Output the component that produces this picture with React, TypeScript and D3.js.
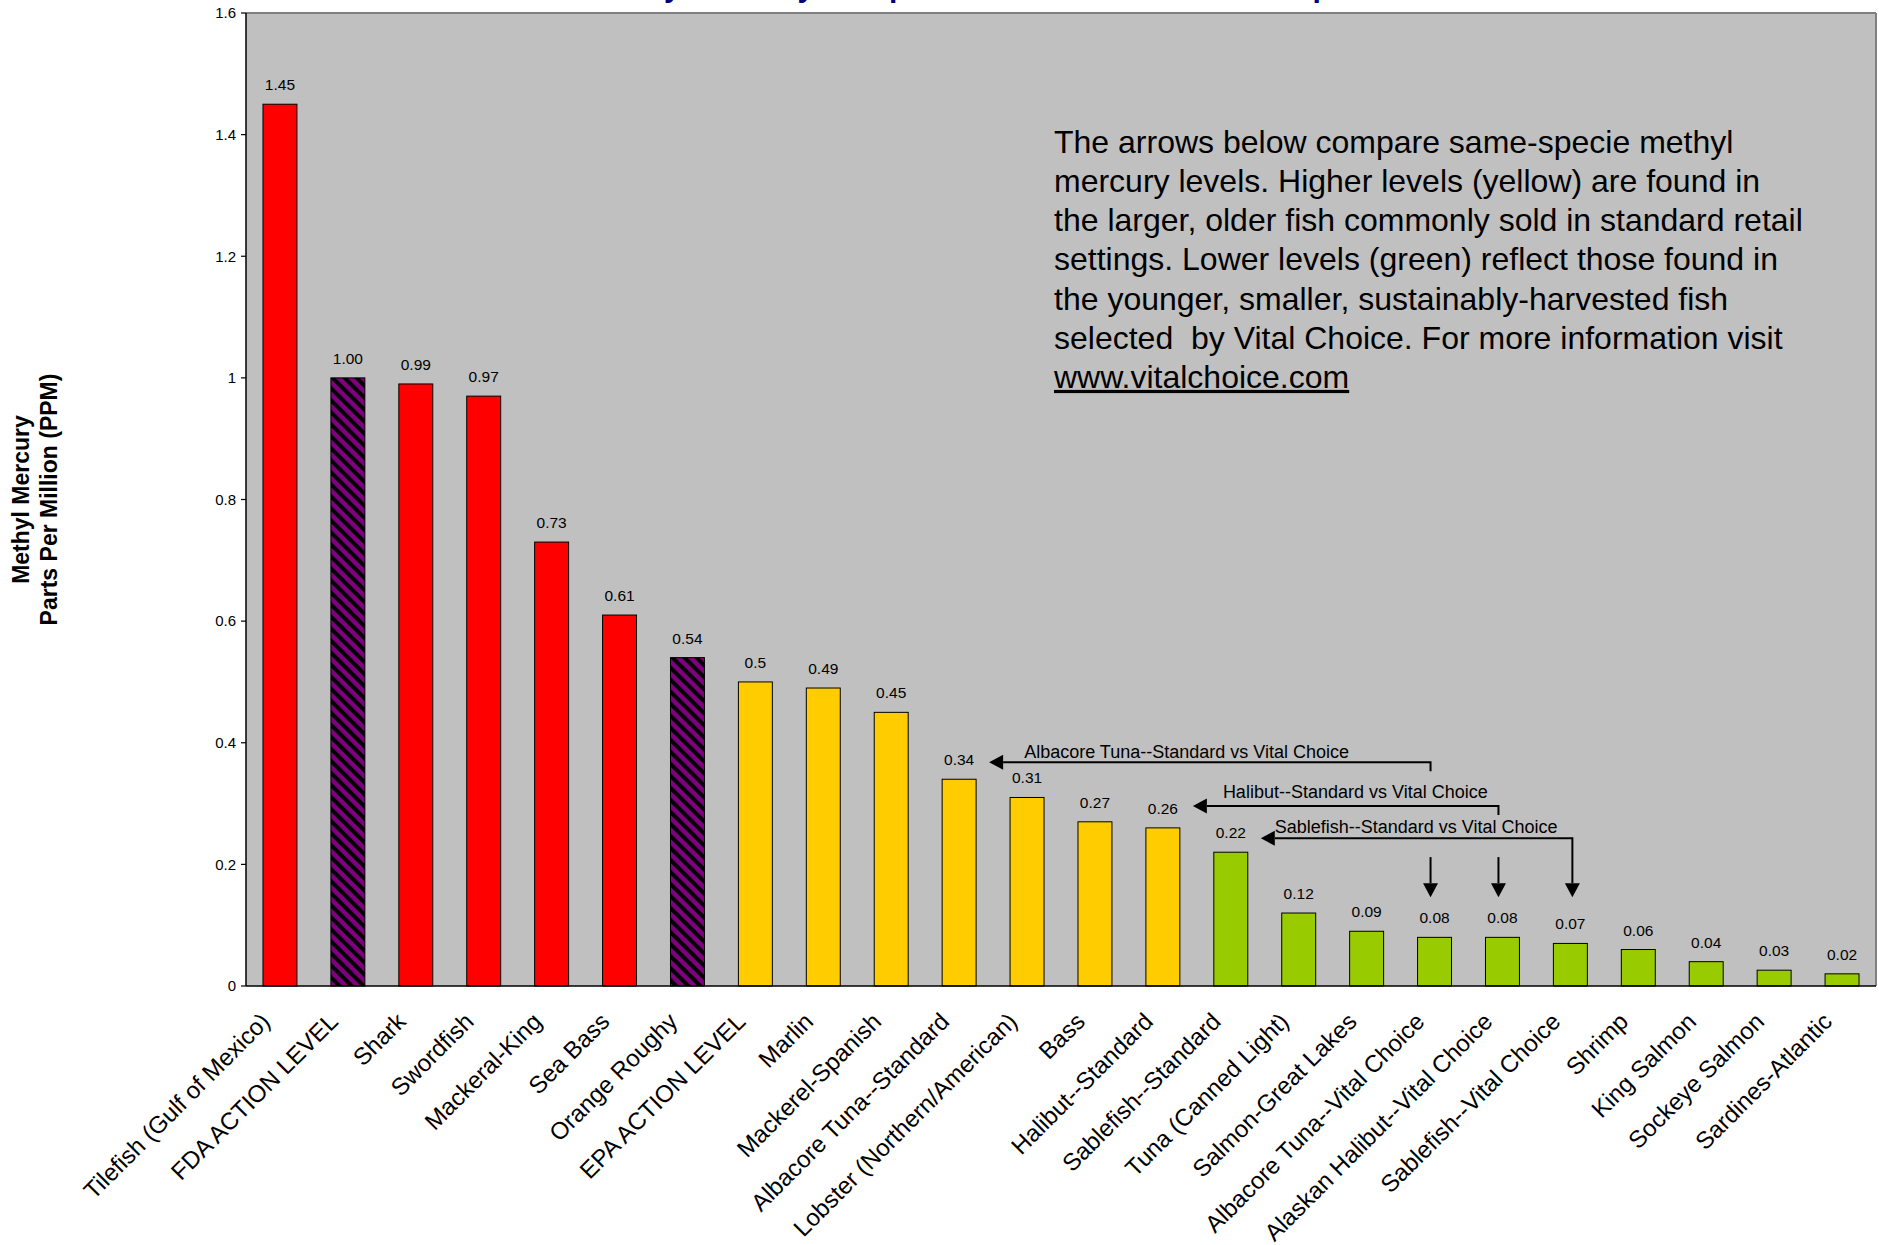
import React from 'react';
import * as d3 from 'd3';

// ---------- data ----------
const categories = [
  'Tilefish (Gulf of Mexico)',
  'FDA ACTION LEVEL',
  'Shark',
  'Swordfish',
  'Mackeral-King',
  'Sea Bass',
  'Orange Roughy',
  'EPA ACTION LEVEL',
  'Marlin',
  'Mackerel-Spanish',
  'Albacore Tuna--Standard',
  'Lobster (Northern/American)',
  'Bass',
  'Halibut--Standard',
  'Sablefish--Standard',
  'Tuna (Canned Light)',
  'Salmon-Great Lakes',
  'Albacore Tuna--Vital Choice',
  'Alaskan Halibut--Vital Choice',
  'Sablefish--Vital Choice',
  'Shrimp',
  'King Salmon',
  'Sockeye Salmon',
  'Sardines-Atlantic',
];

const values = [
  1.45, 1.0, 0.99, 0.97, 0.73, 0.61, 0.54, 0.5, 0.49, 0.45, 0.34, 0.31, 0.27,
  0.26, 0.22, 0.12, 0.09, 0.08, 0.08, 0.07, 0.06, 0.04, 0.026, 0.02,
];

const valueLabels = [
  '1.45', '1.00', '0.99', '0.97', '0.73', '0.61', '0.54', '0.5', '0.49', '0.45',
  '0.34', '0.31', '0.27', '0.26', '0.22', '0.12', '0.09', '0.08', '0.08', '0.07',
  '0.06', '0.04', '0.03', '0.02',
];

// group of each bar: high / action level / standard retail / low
const groups = [
  'high', 'action', 'high', 'high', 'high', 'high', 'action', 'standard',
  'standard', 'standard', 'standard', 'standard', 'standard', 'standard',
  'low', 'low', 'low', 'low', 'low', 'low', 'low', 'low', 'low', 'low',
];

const yTicks = [0, 0.2, 0.4, 0.6, 0.8, 1.0, 1.2, 1.4, 1.6];
const yTickLabels = ['0', '0.2', '0.4', '0.6', '0.8', '1', '1.2', '1.4', '1.6'];

const noteLines = [
  'The arrows below compare same-specie methyl',
  'mercury levels. Higher levels (yellow) are found in',
  'the larger, older fish commonly sold in standard retail',
  'settings. Lower levels (green) reflect those found in',
  'the younger, smaller, sustainably-harvested fish',
  'selected  by Vital Choice. For more information visit',
];
const noteLink = 'www.vitalchoice.com';

// comparison arrows: from standard (index) to vital choice (index)
const compareLabels = [
  'Albacore Tuna--Standard vs Vital Choice',
  'Halibut--Standard vs Vital Choice',
  'Sablefish--Standard vs Vital Choice',
];
const compareFrom = [10, 13, 14];
const compareTo = [17, 18, 19];
const compareLineLevel = [0.368, 0.296, 0.243];

const titleText = 'Methyl Mercury Comparison of Commercial Fish Species';

// ---------- layout ----------
const W = 1879;
const H = 1245;
const M = { left: 246, right: 1876, top: 13, bottom: 986 };
const FONT = "'Liberation Sans', Arial, Helvetica, sans-serif";

const colorOf: Record<string, string> = {
  high: '#FF0000',
  action: 'url(#stripes)',
  standard: '#FFCC00',
  low: '#99CC00',
};

export default function App() {
  const x = d3
    .scaleBand<string>()
    .domain(categories)
    .range([M.left, M.right])
    .paddingInner(0.5)
    .paddingOuter(0.25);
  const y = d3.scaleLinear().domain([0, 1.6]).range([M.bottom, M.top]);
  const bw = x.bandwidth();
  const cx = (i: number) => (x(categories[i]) as number) + bw / 2;

  // arrow geometry offsets (px)
  const labelDx = [35, 30, 14];
  const labelDy = [4, 8, 5];
  const head = 14;
  const headHalf = 7.5;

  return (
    <svg
      width={W}
      height={H}
      viewBox={`0 0 ${W} ${H}`}
      style={{ position: 'absolute', left: 0, top: 0, background: '#fff' }}
      fontFamily={FONT}
    >
      <defs>
        <pattern
          id="stripes"
          patternUnits="userSpaceOnUse"
          width={8.5}
          height={8.5}
          patternTransform="rotate(-45)"
        >
          <rect x={0} y={0} width={8.5} height={8.5} fill="#800080" />
          <rect x={0} y={0} width={4} height={8.5} fill="#000" />
        </pattern>
      </defs>

      {/* title (mostly above the visible area, as in the reference) */}
      <text
        x={1000}
        y={-3}
        textAnchor="middle"
        fontSize={30}
        fontWeight="bold"
        fill="#000080"
      >
        {titleText}
      </text>

      {/* plot area */}
      <rect
        x={M.left}
        y={M.top}
        width={M.right - M.left}
        height={M.bottom - M.top}
        fill="#C0C0C0"
      />
      <line x1={M.left} x2={M.right} y1={M.top} y2={M.top} stroke="#808080" strokeWidth={2} />
      <line x1={M.right} x2={M.right} y1={M.top} y2={M.bottom} stroke="#808080" strokeWidth={2} />

      {/* bars */}
      {values.map((v, i) => (
        <rect
          key={categories[i]}
          x={x(categories[i])}
          y={y(v)}
          width={bw}
          height={y(0) - y(v)}
          fill={colorOf[groups[i]]}
          stroke="#000"
          strokeWidth={1}
        />
      ))}

      {/* value labels */}
      {values.map((v, i) => (
        <text
          key={'vl' + i}
          x={cx(i)}
          y={y(v) - 14}
          textAnchor="middle"
          fontSize={15.5}
          fill="#000"
        >
          {valueLabels[i]}
        </text>
      ))}

      {/* axes */}
      <line x1={M.left} x2={M.left} y1={M.top} y2={M.bottom} stroke="#000" strokeWidth={1.5} />
      <line x1={M.left} x2={M.right} y1={M.bottom} y2={M.bottom} stroke="#000" strokeWidth={1.5} />
      {yTicks.map((t, i) => (
        <g key={'yt' + i}>
          <line x1={M.left - 5} x2={M.left} y1={y(t)} y2={y(t)} stroke="#000" strokeWidth={1.2} />
          <text
            x={M.left - 10}
            y={y(t)}
            dy="0.35em"
            textAnchor="end"
            fontSize={15}
            fill="#000"
          >
            {yTickLabels[i]}
          </text>
        </g>
      ))}

      {/* category labels */}
      {categories.map((c, i) => (
        <text
          key={'cl' + i}
          transform={`translate(${cx(i) - 8.5},${M.bottom + 37}) rotate(-45)`}
          textAnchor="end"
          fontSize={24}
          fill="#000"
        >
          {c}
        </text>
      ))}

      {/* y axis title */}
      <g transform={`translate(0,${(M.top + M.bottom) / 2}) rotate(-90)`}>
        <text x={0} y={29} textAnchor="middle" fontSize={23} fontWeight="bold" fill="#000">
          Methyl Mercury
        </text>
        <text x={0} y={57} textAnchor="middle" fontSize={23} fontWeight="bold" fill="#000">
          Parts Per Million (PPM)
        </text>
      </g>

      {/* note */}
      <g fontSize={32} fill="#000">
        {noteLines.map((l, i) => (
          <text key={'n' + i} x={1054} y={152.7 + i * 39.2} style={{ whiteSpace: 'pre' }}>
            {l}
          </text>
        ))}
        <text x={1054} y={152.7 + 6 * 39.2} textDecoration="underline">
          {noteLink}
        </text>
      </g>

      {/* comparison arrows */}
      {compareLabels.map((lab, k) => {
        const ly = y(compareLineLevel[k]);
        const tipX = cx(compareFrom[k]) + 30;
        const endX = cx(compareTo[k]) - (k === 2 ? -2 : 4);
        const last = k === 2;
        const downTo = last ? y(0.146) : ly + 9;
        return (
          <g key={'ar' + k}>
            <path
              d={`M${tipX + head},${ly} H${endX} V${last ? downTo - head : downTo}`}
              fill="none"
              stroke="#000"
              strokeWidth={2}
            />
            <path
              d={`M${tipX},${ly} L${tipX + head},${ly - headHalf} L${tipX + head},${ly + headHalf} Z`}
              fill="#000"
            />
            {last && (
              <path
                d={`M${endX},${downTo} L${endX - headHalf},${downTo - head} L${endX + headHalf},${downTo - head} Z`}
                fill="#000"
              />
            )}
            <text x={tipX + labelDx[k]} y={ly - labelDy[k]} fontSize={18} fill="#000">
              {lab}
            </text>
          </g>
        );
      })}
      {/* standalone down arrows above the vital choice bars */}
      {compareTo.slice(0, 2).map((idx, k) => {
        const ax = cx(idx) - 4;
        const top = y(0.212);
        const tip = y(0.146);
        return (
          <g key={'da' + k}>
            <line x1={ax} x2={ax} y1={top} y2={tip - head} stroke="#000" strokeWidth={2} />
            <path
              d={`M${ax},${tip} L${ax - headHalf},${tip - head} L${ax + headHalf},${tip - head} Z`}
              fill="#000"
            />
          </g>
        );
      })}
    </svg>
  );
}
